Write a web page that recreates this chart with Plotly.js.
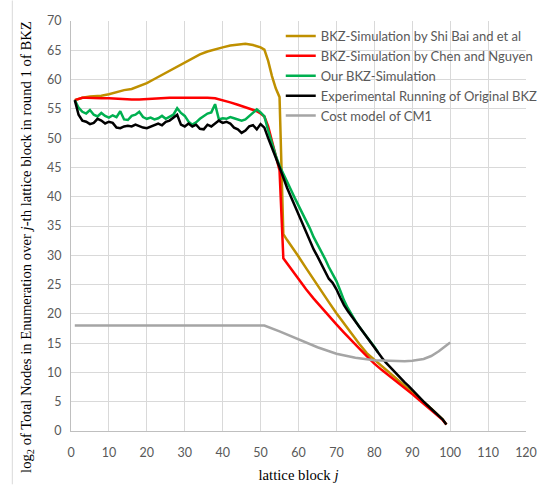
<!DOCTYPE html>
<html>
<head>
<meta charset="utf-8">
<script src="https://cdn.plot.ly/plotly-3.0.1.min.js"></script>
<style>
html,body{margin:0;padding:0;background:#fff;}
#chart{width:547px;height:486px;}
</style>
</head>
<body>
<div id="chart"></div>
<script>
// ---- data ----
const goldX = [1,3,5,8,10,12,14,16,18,20,22,24,26,28,30,32,34,36,38,40,42,44,46,48,50,51,52,53,54,55,56,57,58,59,60,62,64,66,68,70,72,74,76,78,80,82,84,86,88,90,92,94,96,98,99];
const goldY = [56.5,56.9,57.1,57.25,57.5,57.9,58.2,58.4,58.9,59.4,60.1,60.8,61.6,62.3,62.9,63.6,64.3,64.8,65.2,65.5,65.8,66.0,66.1,65.9,65.5,65.1,63.2,60.6,58.5,57.0,33.6,32.6,31.7,30.7,29.8,27.8,25.8,23.9,22.0,20.1,18.3,16.6,14.9,13.3,12.2,11.1,10.0,8.9,7.8,6.6,5.5,4.4,3.2,2.0,1.1];

const redX = [1,2,3,4,6,8,10,12,14,16,18,20,22,24,26,28,30,32,34,36,38,40,42,44,46,48,49,50,51,52,53,54,55,56,57,58,59,60,62,64,66,68,70,72,74,76,78,80,82,84,86,88,90,92,94,96,98,99];
const redY = [56.5,56.7,56.9,56.9,56.8,56.8,56.8,56.7,56.6,56.6,56.6,56.7,56.7,56.8,56.9,56.9,56.9,56.9,57.0,56.9,56.8,56.5,56.1,55.7,55.3,54.9,54.6,54.2,53.7,52.0,49.5,47.3,44.5,29.5,28.6,27.6,26.7,25.8,24.2,22.6,21.1,19.6,18.2,16.8,15.4,14.1,12.8,11.5,10.4,9.4,8.4,7.4,6.3,5.2,4.1,3.0,1.9,1.1];

const greenX = [1,2,3,4,5,6,7,8,9,10,11,12,13,14,15,16,17,18,19,20,21,22,23,24,25,26,27,28,29,30,31,32,33,34,35,36,37,38,39,40,41,42,43,44,45,46,47,48,49,50,51,52,53,54,55,56,57,58,59,60,61,62,63,64,65,66,67,68,69,70,71,72,73,74,75,76,77,78,79,80,81];
const greenY = [56.5,55.2,54.5,54.2,54.8,54.0,53.7,54.3,53.8,53.5,53.9,53.6,54.6,53.2,53.1,53.8,54.0,54.5,53.6,53.3,53.5,53.2,53.4,53.8,53.3,53.6,54.0,55.1,54.3,53.8,52.8,52.3,52.7,53.3,53.8,54.2,54.4,55.8,53.2,53.4,53.3,53.6,53.4,53.2,53.0,53.2,53.8,54.4,54.9,54.4,53.7,51.3,49.0,47.0,45.3,44.0,42.6,41.2,39.8,38.5,37.3,36.0,34.6,33.1,31.9,30.8,29.4,28.0,26.7,25.6,24.0,22.3,21.0,19.8,18.8,17.8,17.0,16.0,15.2,14.4,13.4];

const blackX = [1,2,3,4,5,6,7,8,9,10,11,12,13,14,15,16,17,18,19,20,21,22,23,24,25,26,27,28,29,30,31,32,33,34,35,36,37,38,39,40,41,42,43,44,45,46,47,48,49,50,51,52,53,54,55,56,57,58,59,60,61,62,63,64,65,66,67,68,69,70,71,72,73,74,75,76,77,78,79,80,81,82,83,84,85,86,87,88,89,90,91,92,93,94,95,96,97,98,99];
const blackY = [56.5,54.0,53.0,52.8,52.4,52.6,53.3,53.0,52.5,52.8,52.6,51.8,51.7,52.0,52.1,52.0,52.3,52.0,51.8,51.7,52.0,52.3,52.5,52.2,52.8,53.0,53.5,54.0,52.3,52.0,52.5,52.0,52.3,51.6,51.5,52.3,52.0,52.5,53.0,52.6,52.8,52.5,51.8,51.5,50.9,51.3,52.0,52.2,51.5,52.4,51.8,50.0,48.5,46.7,45.0,43.2,41.5,40.0,38.5,37.2,35.5,34.0,32.4,31.0,29.8,28.5,27.3,26.0,25.3,24.2,22.8,21.5,20.5,19.6,18.6,17.8,17.0,16.0,15.2,14.2,13.2,12.5,11.7,11.0,10.3,9.6,9.0,8.3,7.7,7.0,6.3,5.7,5.0,4.4,3.8,3.2,2.6,2.0,1.1];

const grayX = [1,10,20,30,40,51,55,60,65,70,75,80,85,88,90,93,95,97,100];
const grayY = [18,18,18,18,18,18,17.0,15.6,14.3,13.2,12.5,12.1,11.9,11.9,12.0,12.3,12.8,13.6,15.1];

const seriesNames = ["BKZ-Simulation by Shi Bai and et al","BKZ-Simulation by Chen and Nguyen","Our BKZ-Simulation","Experimental Running of Original BKZ","Cost model of CM1"];
const xTicks = [0,10,20,30,40,50,60,70,80,90,100,110,120];
const yTicks = [0,5,10,15,20,25,30,35,40,45,50,55,60,65,70];
const xTitle = 'lattice block <i>j</i>';
const yTitle = 'log<sub>2</sub> of Total Nodes in Enumeration over <i>j</i>-th lattice block in round 1 of BKZ';

// ---- chart ----
const colors = ["#BF9000","#FF0000","#00B050","#000000","#A5A5A5"];
const xs = [goldX, redX, greenX, blackX, grayX];
const ys = [goldY, redY, greenY, blackY, grayY];
const traces = seriesNames.map((n,i)=>({
  x: xs[i], y: ys[i], name: n, type: 'scatter', mode: 'lines',
  line: {color: colors[i], width: 2.5}
}));

const tickFont = {family: 'Lato, "Open Sans", sans-serif', size: 12.5, color: '#595959'};
const serif = '"Liberation Serif", "Times New Roman", serif';
const layout = {
  width: 547, height: 486,
  margin: {l: 71, r: 21, t: 21, b: 55, autoexpand: false},
  paper_bgcolor: '#fff', plot_bgcolor: '#fff',
  showlegend: true,
  legend: {x: 0.461, y: 1.0, xanchor: 'left', yanchor: 'top', bgcolor: 'rgba(0,0,0,0)',
           font: {family: 'Lato, "Open Sans", sans-serif', size: 13, color: '#595959'},
           tracegroupgap: 0},
  xaxis: {range: [0,120], tickvals: xTicks, ticktext: xTicks.map(String), showgrid: true,
          gridcolor: '#d9d9d9', gridwidth: 1, zeroline: false, showline: true, linecolor: '#bfbfbf',
          ticks: '', tickfont: tickFont, ticklabelstandoff: 10, automargin: false,
          title: {text: xTitle, font: {family: serif, size: 14.7, color: '#000'}, standoff: 10}},
  yaxis: {range: [0,70], tickvals: yTicks, ticktext: yTicks.map(String), showgrid: true,
          gridcolor: '#d9d9d9', gridwidth: 1, zeroline: false, showline: true, linecolor: '#bfbfbf',
          ticks: '', tickfont: tickFont, ticklabelstandoff: 6, automargin: false},
  annotations: [{text: yTitle, xref: 'paper', yref: 'paper', x: -0.0967, y: 0.449,
                 xanchor: 'center', yanchor: 'middle', textangle: -90, showarrow: false,
                 font: {family: serif, size: 14.7, color: '#000'}}],
  shapes: [{type: 'line', xref: 'paper', yref: 'paper', x0: -0.129, x1: -0.129, y0: -0.13, y1: 1.05, line: {color: '#d9d9d9', width: 1}}]
};
Plotly.newPlot('chart', traces, layout, {displayModeBar: false, staticPlot: true});
</script>
</body>
</html>
